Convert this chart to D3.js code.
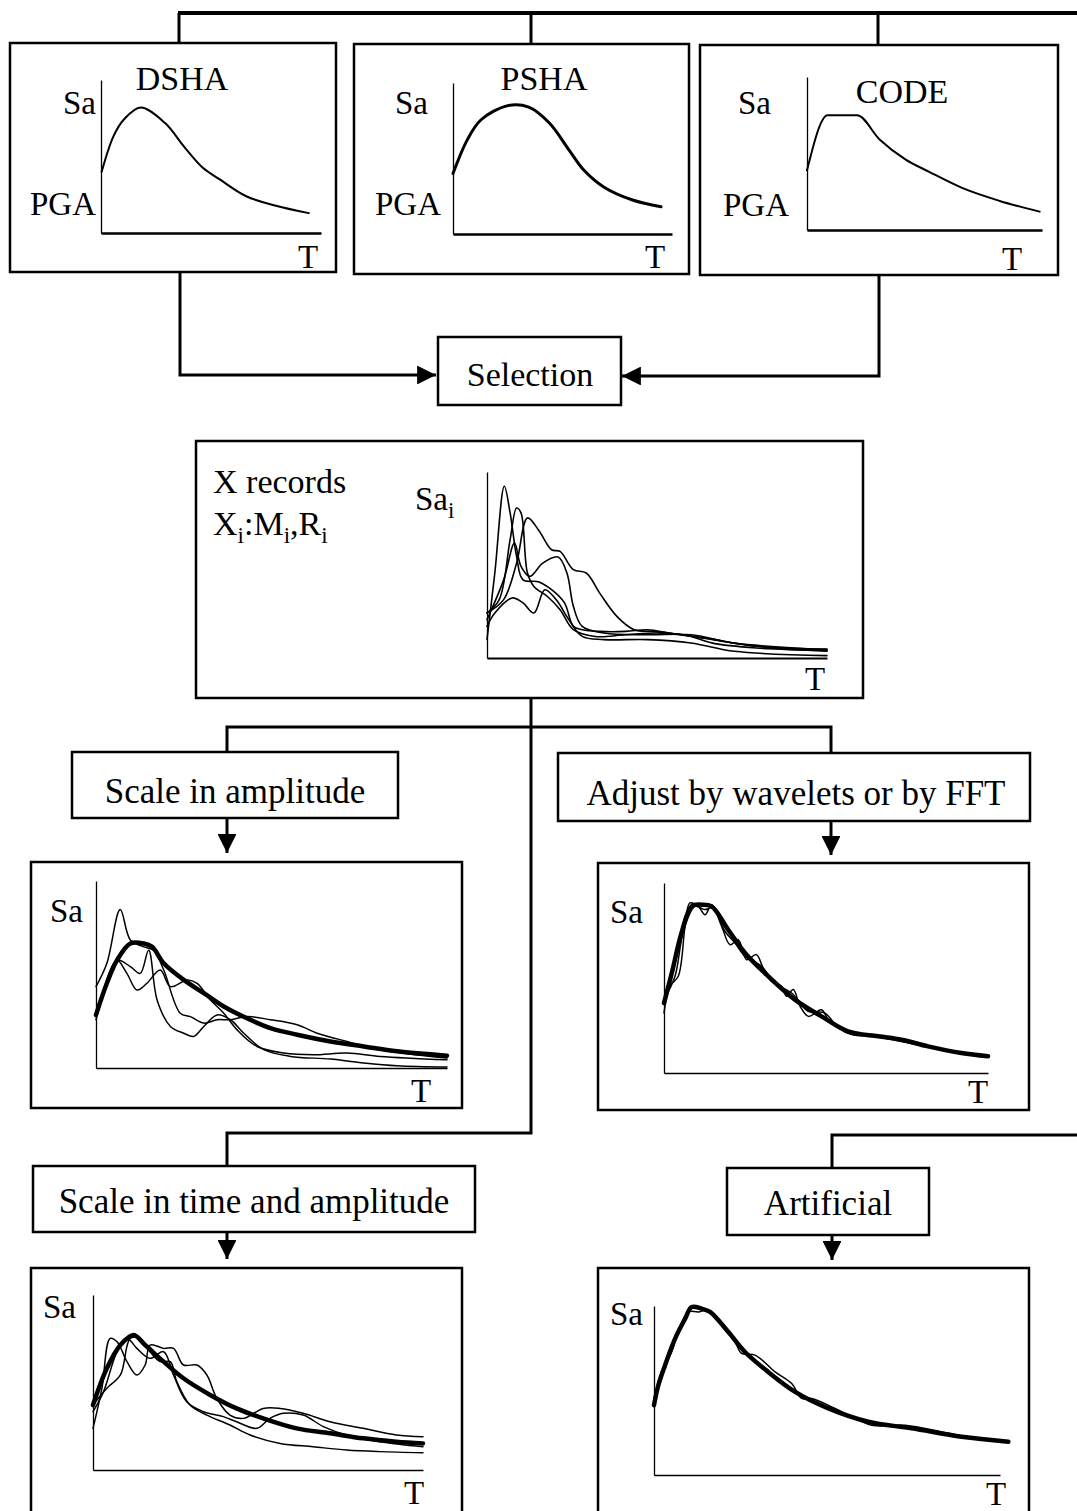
<!DOCTYPE html>
<html>
<head>
<meta charset="utf-8">
<script src="https://cdn.jsdelivr.net/npm/d3@7"></script>
<style>
  body { margin: 0; padding: 0; background: #fff; }
  svg text { font-family: "Liberation Serif", "Times New Roman", serif; fill: #000; }
</style>
</head>
<body>
<div id="chart"></div>
<script>
// ---- data: normalised spectra [T, Sa] per panel ----
var dsha = [[0.003,0.40],[0.056,0.63],[0.103,0.74],[0.18,0.82],[0.29,0.72],[0.38,0.56],
            [0.46,0.43],[0.54,0.35],[0.66,0.24],[0.79,0.18],[0.945,0.13]];
var psha = [[0,0.40],[0.064,0.62],[0.127,0.755],[0.25,0.85],[0.346,0.84],[0.44,0.735],
            [0.53,0.556],[0.597,0.424],[0.69,0.31],[0.82,0.225],[0.95,0.18]];
var code = [[0,0.39],[0.088,0.75],[0.213,0.75],[0.31,0.59],[0.42,0.46],[0.52,0.38],
            [0.66,0.275],[0.82,0.19],[0.99,0.12]];

var rec1 = [[0,0.10],[0.023,0.457],[0.051,0.923],[0.068,0.78],[0.087,0.547],[0.106,0.42],[0.151,0.41],
            [0.19,0.367],[0.228,0.296],[0.254,0.17],[0.28,0.152],[0.331,0.143],[0.408,0.143],[0.472,0.152],
            [0.536,0.134],[0.60,0.116],[0.664,0.08],[0.792,0.054],[1,0.041]];
var rec2 = [[0,0.242],[0.036,0.314],[0.068,0.636],[0.087,0.806],[0.1,0.78],[0.119,0.457],[0.138,0.385],
            [0.177,0.332],[0.215,0.26],[0.254,0.152],[0.318,0.116],[0.408,0.125],[0.51,0.134],[0.638,0.108],
            [0.792,0.063],[1,0.048]];
var rec3 = [[0,0.242],[0.049,0.314],[0.087,0.51],[0.119,0.753],[0.151,0.69],[0.19,0.582],[0.215,0.573],
            [0.254,0.475],[0.292,0.457],[0.331,0.35],[0.382,0.224],[0.433,0.152],[0.485,0.143],[0.536,0.134],
            [0.664,0.099],[0.792,0.063],[1,0.036]];
var rec4 = [[0,0.206],[0.049,0.42],[0.081,0.618],[0.1,0.493],[0.126,0.439],[0.164,0.51],[0.209,0.543],
            [0.235,0.457],[0.254,0.278],[0.28,0.17],[0.344,0.134],[0.472,0.125],[0.60,0.125],[0.728,0.08],[1,0.045]];
var rec5 = [[0,0.17],[0.023,0.242],[0.074,0.323],[0.106,0.296],[0.138,0.242],[0.17,0.367],[0.203,0.314],
            [0.241,0.206],[0.28,0.116],[0.344,0.099],[0.472,0.099],[0.60,0.081],[0.728,0.036],[1,0.013]];

var ampTarget = [[0,0.284],[0.031,0.453],[0.06,0.577],[0.098,0.666],[0.136,0.666],[0.16,0.648],[0.193,0.56],
                 [0.25,0.471],[0.307,0.40],[0.364,0.329],[0.43,0.266],[0.497,0.213],[0.573,0.178],[0.668,0.142],
                 [0.763,0.115],[0.858,0.089],[1,0.066]];
var ampA = [[0,0.435],[0.031,0.56],[0.069,0.847],[0.098,0.684],[0.136,0.648],[0.164,0.63],[0.193,0.524],
            [0.24,0.293],[0.269,0.275],[0.307,0.24],[0.345,0.258],[0.383,0.258],[0.43,0.275],[0.497,0.258],
            [0.573,0.231],[0.63,0.186],[0.715,0.142],[0.81,0.098],[1,0.053]];
var ampB = [[0,0.275],[0.031,0.453],[0.06,0.577],[0.098,0.542],[0.126,0.506],[0.15,0.63],[0.174,0.364],
            [0.212,0.222],[0.25,0.186],[0.278,0.169],[0.307,0.222],[0.345,0.284],[0.383,0.258],[0.421,0.186],
            [0.478,0.098],[0.554,0.062],[0.668,0.048],[0.763,0.027],[0.858,0.012],[1,0.005]];
var ampC = [[0,0.258],[0.041,0.524],[0.06,0.577],[0.088,0.506],[0.117,0.417],[0.145,0.453],[0.183,0.524],
            [0.212,0.435],[0.26,0.471],[0.288,0.453],[0.326,0.364],[0.364,0.293],[0.402,0.204],[0.459,0.115],
            [0.535,0.08],[0.62,0.071],[0.715,0.08],[0.81,0.062],[1,0.044]];

var fftTarget = [[0,0.368],[0.024,0.526],[0.054,0.737],[0.085,0.877],[0.116,0.886],[0.147,0.877],[0.198,0.754],
                 [0.25,0.632],[0.322,0.509],[0.404,0.386],[0.486,0.298],[0.568,0.219],[0.661,0.193],[0.733,0.175],
                 [0.815,0.14],[0.918,0.105],[1,0.088]];
var fftA = [[0,0.316],[0.018,0.456],[0.044,0.509],[0.065,0.772],[0.08,0.895],[0.106,0.877],[0.127,0.833],
            [0.147,0.886],[0.178,0.772],[0.204,0.675],[0.229,0.702],[0.255,0.596],[0.285,0.623],[0.306,0.553],
            [0.332,0.482],[0.363,0.456],[0.378,0.404],[0.399,0.439],[0.42,0.351],[0.446,0.298],[0.486,0.333],
            [0.507,0.281],[0.548,0.228],[0.589,0.211],[0.661,0.193],[0.815,0.14],[1,0.088]];
var fftB = [[0,0.386],[0.034,0.509],[0.06,0.746],[0.096,0.877],[0.126,0.86],[0.152,0.87],[0.188,0.746],
            [0.219,0.684],[0.25,0.614],[0.301,0.561],[0.342,0.474],[0.394,0.421],[0.445,0.325],[0.496,0.316],
            [0.538,0.237],[0.579,0.202],[0.661,0.19],[0.815,0.137],[1,0.085]];

var timeTarget = [[0,0.371],[0.042,0.581],[0.083,0.714],[0.123,0.771],[0.158,0.714],[0.214,0.619],[0.274,0.524],
                  [0.355,0.429],[0.435,0.352],[0.516,0.295],[0.617,0.238],[0.718,0.21],[0.819,0.181],[0.919,0.162],[1,0.152]];
var timeA = [[0,0.238],[0.027,0.467],[0.052,0.752],[0.073,0.733],[0.103,0.619],[0.133,0.543],[0.158,0.6],
             [0.173,0.714],[0.214,0.695],[0.244,0.695],[0.274,0.6],[0.315,0.6],[0.345,0.543],[0.375,0.41],
             [0.415,0.314],[0.456,0.295],[0.516,0.352],[0.567,0.352],[0.637,0.324],[0.718,0.276],[0.819,0.238],
             [0.919,0.2],[1,0.19]];
var timeB = [[0,0.371],[0.042,0.467],[0.083,0.543],[0.113,0.752],[0.143,0.752],[0.173,0.676],[0.204,0.619],
             [0.234,0.619],[0.254,0.505],[0.294,0.371],[0.345,0.314],[0.415,0.257],[0.476,0.2],[0.567,0.152],
             [0.667,0.133],[0.768,0.114],[0.869,0.105],[1,0.099]];
var timeC = [[0,0.333],[0.032,0.448],[0.073,0.676],[0.103,0.752],[0.133,0.695],[0.173,0.638],[0.214,0.676],
             [0.244,0.543],[0.284,0.39],[0.335,0.333],[0.395,0.305],[0.435,0.276],[0.496,0.238],[0.536,0.295],
             [0.577,0.324],[0.637,0.314],[0.698,0.248],[0.768,0.2],[0.869,0.162],[1,0.133]];

var artTarget = [[0,0.413],[0.0125,0.531],[0.032,0.65],[0.061,0.807],[0.09,0.925],[0.109,0.994],[0.138,0.984],
                 [0.162,0.965],[0.215,0.846],[0.263,0.728],[0.33,0.61],[0.408,0.492],[0.504,0.394],[0.619,0.315],
                 [0.745,0.276],[0.889,0.226],[1.024,0.197]];
var artA = [[0,0.453],[0.022,0.61],[0.051,0.728],[0.065,0.817],[0.099,0.965],[0.128,0.965],[0.157,0.974],
            [0.234,0.787],[0.253,0.719],[0.292,0.709],[0.35,0.61],[0.398,0.541],[0.427,0.453],[0.456,0.453],
            [0.523,0.394],[0.629,0.295],[0.726,0.295],[0.889,0.232],[1.024,0.201]];

var boxLabels = ["Selection", "Scale in amplitude", "Adjust by wavelets or by FFT",
                 "Scale in time and amplitude", "Artificial"];

// ---- layout ----
var W = 1077, H = 1511;
var svg = d3.select("#chart").append("svg").attr("width", W).attr("height", H);

var defs = svg.append("defs");
defs.append("marker").attr("id", "arr")
    .attr("viewBox", "0 0 10 10").attr("refX", 10).attr("refY", 5)
    .attr("markerWidth", 7).attr("markerHeight", 6.3).attr("orient", "auto")
    .attr("markerUnits", "strokeWidth")
  .append("path").attr("d", "M0,0L10,5L0,10Z").attr("fill", "#000");

function box(x, y, w, h, sw) {
  svg.append("rect").attr("x", x).attr("y", y).attr("width", w).attr("height", h)
     .attr("fill", "none").attr("stroke", "#000").attr("stroke-width", sw || 2.5);
}
function path(pts, arrow, sw) {
  var p = svg.append("path").attr("d", d3.line()(pts))
     .attr("fill", "none").attr("stroke", "#000").attr("stroke-width", sw || 3)
     .attr("stroke-linejoin", "miter");
  if (arrow) p.attr("marker-end", "url(#arr)");
}
function label(txt, x, y, size, anchor) {
  return svg.append("text").attr("x", x).attr("y", y).attr("font-size", size || 34)
     .attr("text-anchor", anchor || "start").text(txt);
}

function panel(p) {
  var x = d3.scaleLinear().domain([0, 1]).range([p.x0, p.x1]);
  var y = d3.scaleLinear().domain([0, 1]).range([p.y0, p.y1]);
  var g = svg.append("g");
  g.append("g").attr("transform", "translate(0," + p.y0 + ")")
    .call(d3.axisBottom(x).ticks(0).tickSizeOuter(0))
    .call(function(a) { a.select(".domain").attr("stroke-width", p.axisW || 2); });
  g.append("g").attr("transform", "translate(" + p.x0 + ",0)")
    .call(d3.axisLeft(y).ticks(0).tickSizeOuter(0))
    .call(function(a) { a.select(".domain").attr("stroke-width", 1.3); });
  p.series.forEach(function(s) {
    g.append("path").datum(s.data)
      .attr("d", d3.line().x(function(d) { return x(d[0]); }).y(function(d) { return y(d[1]); })
              .curve(s.curve || d3.curveCatmullRom.alpha(0.5)))
      .attr("fill", "none").attr("stroke", "#000").attr("stroke-width", s.w)
      .attr("stroke-linecap", "round").attr("stroke-linejoin", "round");
  });
}

// ---- top hazard boxes ----
path([[178, 13], [1077, 13]], false, 4);
path([[179, 13], [179, 43]]);
path([[531, 13], [531, 44]]);
path([[878, 13], [878, 45]]);

box(10, 43, 326, 229);
box(354, 44, 335, 230);
box(700, 45, 358, 230);

panel({x0: 101, x1: 321, y0: 233, y1: 80, axisW: 2.5, series: [{data: dsha, w: 2}]});
panel({x0: 453, x1: 672, y0: 234, y1: 83, axisW: 2.5, series: [{data: psha, w: 3}]});
panel({x0: 807, x1: 1042, y0: 230, y1: 77, axisW: 2.5, series: [{data: code, w: 2, curve: d3.curveMonotoneX}]});

label("DSHA", 182, 90, 34, "middle");
label("PSHA", 544, 90, 34, "middle");
label("CODE", 902, 103, 34, "middle");
label("Sa", 96, 114, 33, "end");  label("PGA", 96, 215, 33, "end");  label("T", 308, 268, 33, "middle");
label("Sa", 428, 114, 33, "end"); label("PGA", 441, 215, 33, "end"); label("T", 655, 268, 33, "middle");
label("Sa", 771, 114, 33, "end"); label("PGA", 789, 216, 33, "end"); label("T", 1012, 270, 33, "middle");

// ---- selection ----
path([[180, 272], [180, 375], [436, 375]], true);
path([[879, 275], [879, 376], [622, 376]], true);
box(438, 337, 183, 68);
label(boxLabels[0], 530, 386, 34, "middle");

// ---- X records ----
box(196, 441, 667, 257);
label("X records", 213, 493, 34);
var xi = label("X", 213, 535, 34);
xi.append("tspan").attr("font-size", 23).attr("dy", 8).text("i");
xi.append("tspan").attr("dy", -8).text(":M");
xi.append("tspan").attr("font-size", 23).attr("dy", 8).text("i");
xi.append("tspan").attr("dy", -8).text(",R");
xi.append("tspan").attr("font-size", 23).attr("dy", 8).text("i");
var sai = label("Sa", 415, 510, 33);
sai.append("tspan").attr("font-size", 23).attr("dy", 8).text("i");
label("T", 815, 690, 33, "middle");
panel({x0: 487, x1: 827, y0: 658, y1: 472, series: [
  {data: rec1, w: 1.6}, {data: rec2, w: 1.6}, {data: rec3, w: 1.6}, {data: rec4, w: 1.6}, {data: rec5, w: 1.6}]});

// ---- branch: amplitude / wavelets ----
path([[531, 698], [531, 1133], [227, 1133], [227, 1166]]);
path([[227, 752], [227, 727], [831, 727], [831, 753]]);
box(72, 752, 326, 66);
label(boxLabels[1], 235, 803, 35, "middle");
box(558, 753, 472, 68);
label(boxLabels[2], 796, 805, 35, "middle");
path([[227, 818], [227, 853]], true);
path([[831, 821], [831, 855]], true);

box(31, 862, 431, 246);
panel({x0: 96, x1: 447, y0: 1068, y1: 881, axisW: 1.5, series: [
  {data: ampA, w: 1.5}, {data: ampB, w: 1.5}, {data: ampC, w: 1.5}, {data: ampTarget, w: 4.5}]});
label("Sa", 50, 922, 33); label("T", 421, 1102, 33, "middle");

box(598, 863, 431, 247);
panel({x0: 664, x1: 988, y0: 1073, y1: 883, axisW: 1.5, series: [
  {data: fftA, w: 1.5}, {data: fftB, w: 1.5}, {data: fftTarget, w: 4.5}]});
label("Sa", 610, 923, 33); label("T", 978, 1103, 33, "middle");

// ---- branch: time scaling / artificial ----
box(33, 1166, 442, 66);
label(boxLabels[3], 254, 1213, 35, "middle");
path([[227, 1232], [227, 1259]], true);

path([[1077, 1135], [832, 1135], [832, 1168]]);
box(727, 1168, 202, 67);
label(boxLabels[4], 828, 1215, 35, "middle");
path([[832, 1235], [832, 1260]], true);

box(31, 1268, 431, 250);
panel({x0: 93, x1: 423, y0: 1470, y1: 1295, axisW: 1.5, series: [
  {data: timeA, w: 1.5}, {data: timeB, w: 1.5}, {data: timeC, w: 1.5}, {data: timeTarget, w: 4.5}]});
label("Sa", 43, 1318, 33); label("T", 414, 1504, 33, "middle");

box(598, 1268, 431, 250);
panel({x0: 654, x1: 1000, y0: 1475, y1: 1306, axisW: 1.5, series: [
  {data: artA, w: 1.5}, {data: artTarget, w: 4.5}]});
label("Sa", 610, 1325, 33); label("T", 996, 1505, 33, "middle");
</script>
</body>
</html>
